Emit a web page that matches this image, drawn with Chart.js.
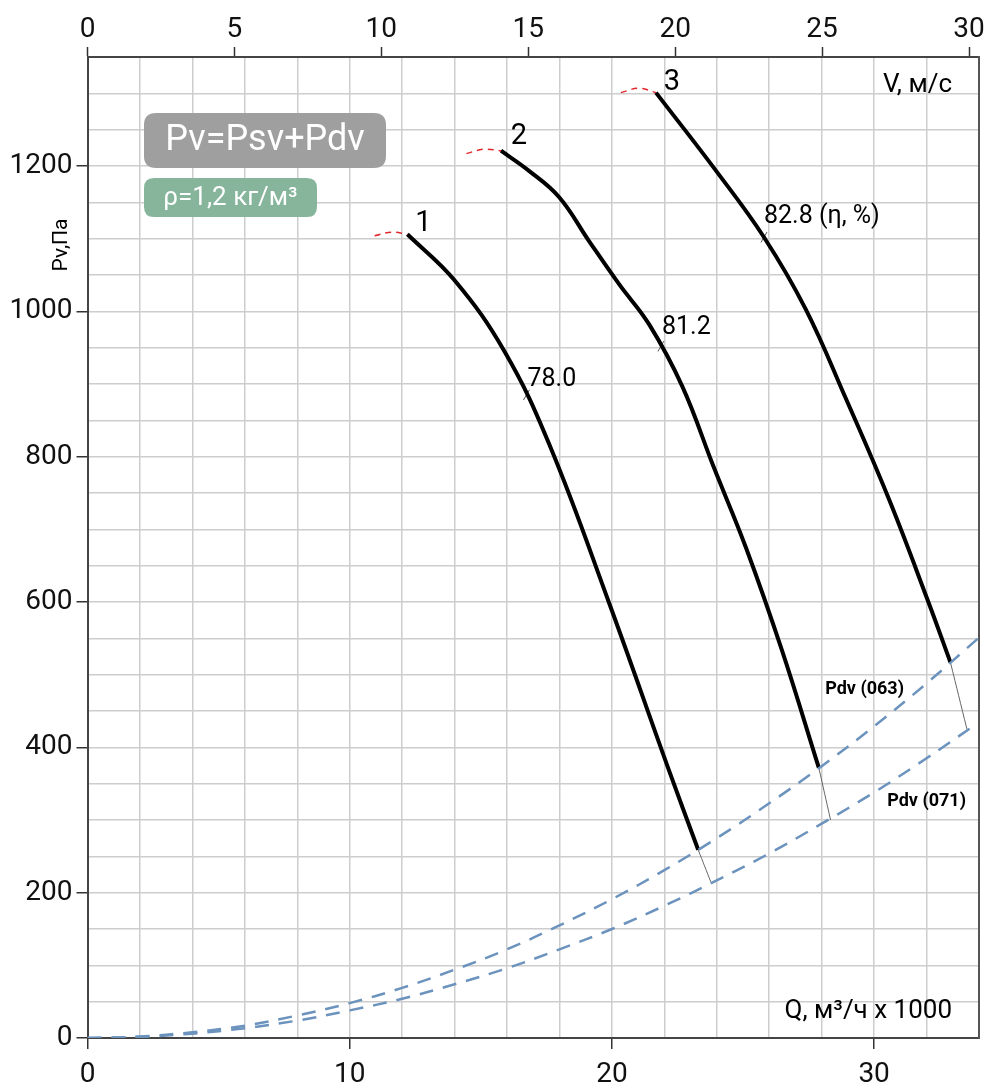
<!DOCTYPE html>
<html>
<head>
<meta charset="utf-8">
<script src="https://cdn.jsdelivr.net/npm/chart.js@4.4.1/dist/chart.umd.min.js"></script>
<style>
  html, body { margin: 0; padding: 0; background: #fff; }
  #wrap { width: 988px; height: 1089px; }
</style>
</head>
<body>
<div id="wrap"><canvas id="chart" width="988" height="1089"></canvas></div>
<script>
// fan curves: Q (m3/h x 1000) against Pv (Pa)
const curve1Q = [12.20, 13.99, 15.90, 17.61, 19.90, 22.18, 23.29];
const curve1P = [1106, 1043, 945, 817, 598, 368, 259];

const curve2Q = [15.77, 16.85, 17.99, 19.14, 20.28, 21.42, 22.68, 23.89, 25.11, 26.48, 27.89];
const curve2P = [1221, 1193, 1157, 1096, 1037, 982, 897, 785, 675, 534, 372];

const curve3Q = [21.68, 23.96, 25.80, 27.39, 28.91, 30.56, 32.08, 32.91];
const curve3P = [1301, 1194, 1102, 1003, 881, 742, 599, 517];

// unstable zone (red dashes)
const stall1Q = [10.95, 11.60, 12.20];
const stall1P = [1104, 1109, 1106];
const stall2Q = [14.45, 15.10, 15.77];
const stall2P = [1217, 1223, 1221];
const stall3Q = [20.34, 21.04, 21.68];
const stall3P = [1301, 1307, 1301];

// dynamic pressure lines
const pdv063Q = [0, 2, 4, 6, 8, 10, 12, 14, 16, 18, 20, 22, 24, 26, 28, 30, 32, 34];
const pdv063P = [0, 2, 8, 17, 31, 48, 69, 94, 122, 155, 191, 231, 275, 323, 374, 429, 488, 551];
const pdv071Q = [0, 2, 4, 6, 8, 10, 12, 14, 16, 18, 20, 22, 24, 26, 28, 30, 32, 33.7];
const pdv071P = [0, 1.5, 6, 13.5, 24, 38, 54, 74, 96, 122, 150, 182, 217, 254, 295, 338, 385, 427];

// thin links from curve ends to the 071 line
const linkQ = [[23.29, 23.77], [27.89, 28.34], [32.91, 33.54]];
const linkP = [[259, 215], [372, 300], [517, 425]];

// efficiency marks
const effQ = [16.74, 21.87, 25.80];
const effP = [885, 952, 1102];
const effText = ['78.0', '81.2', '82.8 (η, %)'];

const curveNames = ['1', '2', '3'];

const qTicks = [];
for (let i = 0; i <= 34; i += 2) qTicks.push(i);
const pTicks = [];
for (let i = 0; i <= 1350; i += 50) pTicks.push(i);
const vTicks = [0, 5, 10, 15, 20, 25, 30];

function pts(qs, ps) {
  return qs.map((q, i) => ({ x: q, y: ps[i] }));
}

function line(qs, ps, color, width, dash) {
  return {
    data: pts(qs, ps),
    showLine: true,
    borderColor: color,
    borderWidth: width,
    borderDash: dash || [],
    pointRadius: 0,
    fill: false,
    tension: 0.4
  };
}

const datasets = [
  line(pdv063Q, pdv063P, '#6b93bd', 2.5, [14, 10]),
  line(pdv071Q, pdv071P, '#6b93bd', 2.5, [14, 10]),
  line(stall1Q, stall1P, '#e3262b', 1.5, [6, 5]),
  line(stall2Q, stall2P, '#e3262b', 1.5, [6, 5]),
  line(stall3Q, stall3P, '#e3262b', 1.5, [6, 5]),
  line(curve1Q, curve1P, '#000', 4),
  line(curve2Q, curve2P, '#000', 4),
  line(curve3Q, curve3P, '#000', 4)
];
linkQ.forEach((q, i) => datasets.push(line(q, linkP[i], '#666', 1)));
datasets.push({
  data: pts(effQ, effP),
  showLine: false,
  pointStyle: 'line',
  rotation: -60,
  pointRadius: 6,
  borderColor: '#555',
  borderWidth: 1
});

function roundBox(ctx, x, y, w, h, r, fill) {
  ctx.beginPath();
  ctx.moveTo(x + r, y);
  ctx.lineTo(x + w - r, y);
  ctx.quadraticCurveTo(x + w, y, x + w, y + r);
  ctx.lineTo(x + w, y + h - r);
  ctx.quadraticCurveTo(x + w, y + h, x + w - r, y + h);
  ctx.lineTo(x + r, y + h);
  ctx.quadraticCurveTo(x, y + h, x, y + h - r);
  ctx.lineTo(x, y + r);
  ctx.quadraticCurveTo(x, y, x + r, y);
  ctx.closePath();
  ctx.fillStyle = fill;
  ctx.fill();
}

const notes = {
  id: 'notes',
  afterDraw(chart) {
    const { ctx, chartArea: a, scales: { x, y } } = chart;
    ctx.save();

    roundBox(ctx, a.left + 56.5, a.top + 56, 242, 55, 12, '#9e9f9e');
    roundBox(ctx, a.left + 56.5, a.top + 121, 173, 39, 10, '#86b59c');
    ctx.fillStyle = '#fff';
    ctx.textAlign = 'center';
    ctx.textBaseline = 'middle';
    ctx.font = '36px Roboto';
    ctx.fillText('Pv=Psv+Pdv', a.left + 177.5, a.top + 84);
    ctx.font = '26px Roboto';
    ctx.fillText('ρ=1,2 кг/м³', a.left + 143, a.top + 141);

    // curve numbers
    ctx.fillStyle = '#000';
    ctx.font = '29px Roboto';
    const starts = [[curve1Q[0], curve1P[0]], [curve2Q[0], curve2P[0]], [curve3Q[0], curve3P[0]]];
    const offs = [[16, -11], [18, -14], [16, -10]];
    starts.forEach((s, i) => {
      ctx.fillText(curveNames[i], x.getPixelForValue(s[0]) + offs[i][0], y.getPixelForValue(s[1]) + offs[i][1]);
    });

    // efficiency labels
    ctx.font = '25px Roboto';
    ctx.textAlign = 'left';
    const effOffs = [[1, -15], [1, -18], [0, -20]];
    effQ.forEach((q, i) => {
      ctx.fillText(effText[i], x.getPixelForValue(q) + effOffs[i][0], y.getPixelForValue(effP[i]) + effOffs[i][1]);
    });

    // axis captions
    ctx.font = '26px Roboto';
    ctx.textAlign = 'right';
    ctx.fillText('V, м/с', a.right - 27, a.top + 28);
    ctx.fillText('Q, м³/ч x 1000', a.right - 27, a.bottom - 27);

    ctx.font = 'bold 18px Roboto';
    ctx.fillText('Pdv (063)', a.right - 75, y.getPixelForValue(480));
    ctx.fillText('Pdv (071)', a.right - 13, y.getPixelForValue(325));

    ctx.font = '21px Roboto';
    ctx.textAlign = 'center';
    ctx.translate(62, 245);
    ctx.rotate(-Math.PI / 2);
    ctx.fillText('Pv,Па', 0, 0);

    ctx.restore();
  }
};

const tickFont = { family: 'Roboto', size: 28 };

new Chart(document.getElementById('chart'), {
  type: 'scatter',
  data: { datasets: datasets },
  options: {
    responsive: false,
    animation: false,
    layout: { padding: 0 },
    plugins: {
      legend: { display: false },
      tooltip: { enabled: false }
    },
    scales: {
      x: {
        type: 'linear',
        position: 'bottom',
        min: 0,
        max: 34,
        afterBuildTicks: s => { s.ticks = qTicks.map(v => ({ value: v })); },
        afterFit: s => { s.height = 51; },
        ticks: {
          autoSkip: false,
          maxRotation: 0,
          padding: 9,
          color: '#111',
          font: tickFont,
          callback: v => (v % 10 === 0 ? v : '')
        },
        grid: {
          color: '#cdcdcd',
          lineWidth: 1.5,
          tickLength: 11,
          tickWidth: 1.5,
          tickColor: c => (c.tick && c.tick.value % 10 === 0 ? '#333' : 'rgba(0,0,0,0)')
        },
        border: { color: '#444', width: 2 }
      },
      x2: {
        type: 'linear',
        position: 'top',
        min: 0,
        max: 30.34,
        afterBuildTicks: s => { s.ticks = vTicks.map(v => ({ value: v })); },
        afterFit: s => { s.height = 57; },
        ticks: {
          autoSkip: false,
          maxRotation: 0,
          padding: 0,
          color: '#111',
          font: tickFont
        },
        grid: {
          drawOnChartArea: false,
          tickLength: 10,
          tickWidth: 1.5,
          tickColor: '#333'
        },
        border: { color: '#444', width: 2 }
      },
      y: {
        type: 'linear',
        position: 'left',
        min: 0,
        max: 1350,
        afterBuildTicks: s => { s.ticks = pTicks.map(v => ({ value: v })); },
        afterFit: s => { s.width = 87.5; },
        ticks: {
          autoSkip: false,
          padding: 4,
          color: '#111',
          font: tickFont,
          callback: v => (v % 200 === 0 && v <= 1200 ? v : '')
        },
        grid: {
          color: '#cdcdcd',
          lineWidth: 1.5,
          tickLength: 11,
          tickWidth: 1.5,
          tickColor: c => (c.tick && c.tick.value % 200 === 0 && c.tick.value <= 1200 ? '#333' : 'rgba(0,0,0,0)')
        },
        border: { color: '#444', width: 2 }
      },
      y2: {
        type: 'linear',
        position: 'right',
        min: 0,
        max: 1350,
        afterFit: s => { s.width = 7.5; },
        ticks: { display: false },
        grid: { display: false },
        border: { display: true, color: '#555', width: 2 }
      }
    }
  },
  plugins: [notes]
});
</script>
</body>
</html>
